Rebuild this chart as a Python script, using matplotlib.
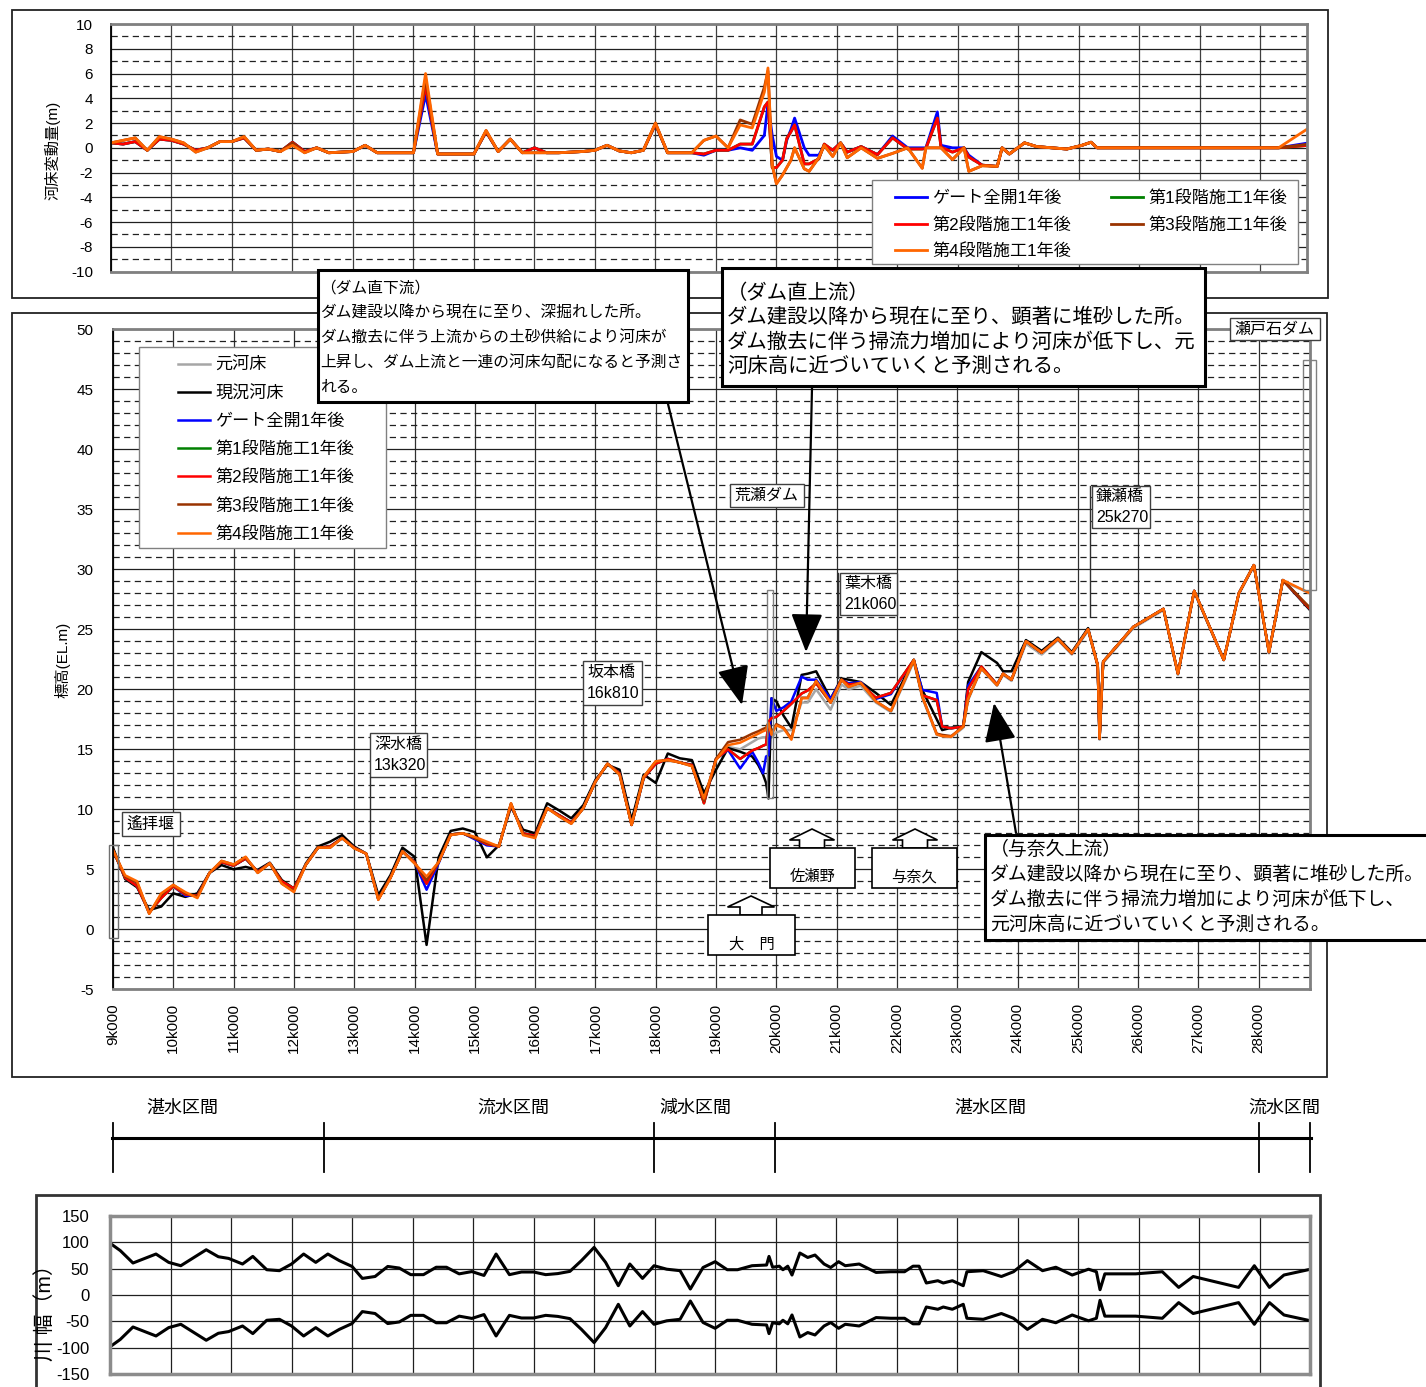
import numpy as np
import matplotlib
matplotlib.use("Agg")
import matplotlib.pyplot as plt
from matplotlib.patches import Rectangle, Polygon, FancyArrowPatch
from matplotlib.lines import Line2D

plt.rcParams['font.family'] = ['Liberation Sans', 'Noto Sans CJK JP', 'DejaVu Sans']
plt.rcParams['axes.unicode_minus'] = False

# ---------------- data ----------------
# main chart: stations (km) and bed elevations (EL.m)
km_main = [9.0, 9.2, 9.4, 9.6, 9.8, 10.0, 10.2, 10.4, 10.6, 10.8,
           11.0, 11.2, 11.4, 11.6, 11.8, 12.0, 12.2, 12.4, 12.6, 12.8,
           13.0, 13.2, 13.4, 13.6, 13.8, 14.0, 14.2, 14.4, 14.6, 14.8,
           15.0, 15.2, 15.4, 15.6, 15.8, 16.0, 16.2, 16.4, 16.6, 16.8,
           17.0, 17.2, 17.4, 17.6, 17.8, 18.0, 18.2, 18.4, 18.6, 18.8,
           19.0, 19.2, 19.4, 19.6,
           19.7, 19.78, 19.83, 19.87, 19.92,
           20.0, 20.12, 20.25, 20.42, 20.52, 20.66, 20.9,
           21.08, 21.2, 21.4, 21.65, 21.9,
           22.28, 22.42, 22.66, 22.75, 22.9,
           23.1, 23.18, 23.4, 23.66, 23.76, 23.9,
           24.14, 24.4, 24.67, 24.9,
           25.17, 25.33, 25.36, 25.42, 25.92,
           26.42, 26.66, 26.93,
           27.42, 27.67, 27.92,
           28.17, 28.4, 28.85]

bed_original = [6.6, 4.4, 3.8, 1.4, 2.7, 3.5, 2.9, 2.8, 4.7, 5.6,
                5.3, 5.9, 4.8, 5.5, 3.9, 3.3, 5.4, 6.8, 6.9, 7.6,
                6.8, 6.3, 2.6, 4.3, 6.5, 5.6, 4.0, 5.6, 7.9, 8.0,
                7.6, 7.1, 6.9, 10.4, 8.0, 7.7, 10.1, 9.5, 8.9, 10.1,
                12.3, 13.8, 13.0, 8.7, 12.6, 13.9, 14.1, 13.9, 13.7, 10.8,
                14.2, 15.2, 15.0, 15.6,
                15.9, 16.0, 16.0, 15.9, 16.0,
                16.4, 16.6, 16.6, 18.9, 18.9, 20.0, 18.3,
                20.4, 20.0, 20.3, 18.9, 18.1,
                22.3, 19.3, 16.2, 16.1, 16.0,
                16.8, 19.1, 21.7, 20.3, 21.2, 20.7,
                23.8, 22.9, 24.1, 22.9,
                24.9, 21.9, 15.8, 22.2, 25.1,
                26.6, 21.2, 28.1,
                22.4, 27.9, 30.3,
                23.0, 29.0, 28.0]

bed_current = [6.8, 4.2, 3.5, 1.6, 1.9, 3.0, 2.7, 3.0, 4.7, 5.35,
               5.0, 5.2, 4.95, 5.55, 4.1, 3.4, 5.5, 6.9, 7.3, 7.85,
               6.9, 6.3, 2.85, 4.5, 6.8, 6.05, -1.3, 6.0, 8.2, 8.4,
               8.1, 6.0, 7.0, 10.2, 8.3, 8.0, 10.5, 9.9, 9.25, 10.35,
               12.45, 13.7, 13.3, 9.1, 12.9, 12.2, 14.65, 14.25, 14.1, 11.35,
               13.3, 15.1, 14.8, 14.4,
               13.7, 12.9, 12.2, 10.9, 19.25,
               19.0, 17.8, 16.8, 21.2, 21.3, 21.5, 19.2,
               20.9, 20.8, 20.6, 19.7, 18.7,
               22.45, 19.95, 17.5, 16.6, 16.8,
               16.9, 20.6, 23.1, 22.2, 21.5, 21.5,
               24.1, 23.2, 24.3, 23.1,
               25.1, 22.0, 15.9, 22.3, 25.2,
               26.7, 21.3, 28.2,
               22.45, 28.0, 30.35,
               23.1, 29.1, 26.6]

bed_gate = [6.6, 4.3, 3.6, 1.4, 2.7, 3.6, 2.8, 2.8, 4.7, 5.6,
            5.3, 5.9, 4.8, 5.5, 3.9, 3.3, 5.4, 6.8, 6.9, 7.6,
            6.8, 6.3, 2.5, 4.3, 6.5, 5.6, 3.3, 5.5, 7.9, 8.0,
            7.5, 7.0, 6.9, 10.4, 8.0, 7.8, 10.1, 9.5, 8.9, 10.1,
            12.3, 13.8, 13.0, 8.7, 12.6, 13.8, 14.2, 13.9, 13.7, 10.6,
            14.2, 14.95, 13.4, 14.8,
            13.9, 13.0, 14.4, 14.5, 19.25,
            18.2, 18.5, 19.0, 21.05, 20.8, 20.8, 19.2,
            20.8, 20.5, 20.6, 19.2, 19.6,
            22.45, 19.95, 19.7, 16.9, 16.75,
            16.9, 20.3, 21.9, 20.4, 21.3, 20.8,
            24.0, 23.05, 24.2, 23.0,
            25.0, 22.0, 15.9, 22.3, 25.2,
            26.7, 21.3, 28.2,
            22.45, 28.0, 30.35,
            23.1, 29.1, 26.7]

bed_stage1 = [6.6, 4.3, 3.6, 1.4, 2.6, 3.6, 2.9, 2.8, 4.7, 5.6,
              5.3, 5.9, 4.8, 5.5, 4.0, 3.4, 5.4, 6.8, 6.9, 7.6,
              6.8, 6.3, 2.5, 4.3, 6.5, 5.6, 3.8, 5.6, 7.9, 8.0,
              7.6, 7.1, 6.9, 10.4, 8.0, 7.8, 10.1, 9.5, 8.9, 10.1,
              12.3, 13.8, 13.0, 8.7, 12.6, 13.8, 14.2, 13.9, 13.7, 10.5,
              14.2, 15.0, 14.2, 14.9,
              15.1, 15.3, 15.4, 17.3, 17.6,
              17.7, 18.2, 18.8, 19.65, 19.9, 20.5, 18.9,
              20.8, 20.4, 20.5, 19.3, 19.7,
              22.45, 19.5, 19.1, 16.9, 16.75,
              16.9, 20.0, 21.9, 20.4, 21.3, 20.8,
              24.0, 23.05, 24.2, 23.0,
              25.0, 22.0, 15.9, 22.3, 25.2,
              26.7, 21.3, 28.2,
              22.45, 28.0, 30.35,
              23.1, 29.1, 26.7]

bed_stage2 = [6.6, 4.3, 3.6, 1.4, 2.6, 3.6, 2.9, 2.8, 4.7, 5.6,
              5.3, 5.9, 4.8, 5.5, 4.0, 3.4, 5.4, 6.8, 6.9, 7.6,
              6.8, 6.3, 2.5, 4.3, 6.5, 5.6, 3.8, 5.6, 7.9, 8.0,
              7.6, 7.1, 6.9, 10.4, 8.0, 7.8, 10.1, 9.5, 8.9, 10.1,
              12.3, 13.8, 13.0, 8.7, 12.6, 13.8, 14.2, 13.9, 13.7, 10.5,
              14.2, 15.0, 14.2, 14.9,
              15.1, 15.3, 15.4, 17.3, 17.6,
              17.7, 18.2, 18.8, 19.65, 19.9, 20.5, 18.9,
              20.8, 20.4, 20.5, 19.3, 19.7,
              22.45, 19.5, 19.1, 16.9, 16.75,
              16.9, 20.0, 21.9, 20.4, 21.3, 20.8,
              24.0, 23.05, 24.2, 23.0,
              25.0, 22.0, 15.9, 22.3, 25.2,
              26.7, 21.3, 28.2,
              22.45, 28.0, 30.35,
              23.1, 29.1, 26.7]

bed_stage3 = [6.6, 4.4, 3.9, 1.3, 2.9, 3.7, 3.0, 2.7, 4.7, 5.7,
              5.4, 6.0, 4.7, 5.5, 3.8, 3.2, 5.4, 6.8, 6.8, 7.6,
              6.75, 6.3, 2.5, 4.3, 6.5, 5.5, 4.1, 5.6, 7.9, 8.0,
              7.6, 7.2, 6.9, 10.5, 7.9, 7.7, 10.1, 9.4, 8.8, 10.1,
              12.3, 13.8, 12.9, 8.7, 12.7, 14.0, 14.1, 13.9, 13.6, 10.7,
              14.2, 15.6, 15.8, 16.3,
              16.5, 16.7, 16.8, 17.2, 16.4,
              17.1, 16.8, 15.9, 19.3, 19.3, 20.7, 18.9,
              20.8, 20.2, 20.55, 19.0, 18.2,
              22.45, 19.4, 16.3, 16.2, 16.1,
              16.9, 19.2, 21.75, 20.35, 21.3, 20.8,
              24.0, 23.05, 24.2, 23.0,
              25.0, 22.0, 15.9, 22.3, 25.2,
              26.7, 21.3, 28.2,
              22.45, 28.0, 30.35,
              23.1, 29.1, 26.8]

bed_stage4 = [6.6, 4.5, 4.0, 1.3, 3.0, 3.7, 3.1, 2.6, 4.7, 5.7,
              5.4, 6.05, 4.7, 5.5, 3.8, 3.1, 5.4, 6.8, 6.8, 7.6,
              6.75, 6.3, 2.45, 4.25, 6.5, 5.5, 4.4, 5.6, 7.85, 8.0,
              7.7, 7.3, 6.9, 10.5, 7.85, 7.6, 10.1, 9.4, 8.8, 10.1,
              12.3, 13.8, 12.9, 8.7, 12.7, 14.0, 14.1, 13.9, 13.6, 10.9,
              14.1, 15.35, 15.55, 16.05,
              16.3, 16.5, 16.6, 17.2, 16.2,
              17.0, 16.75, 15.8, 19.25, 19.25, 20.7, 18.9,
              20.8, 20.2, 20.55, 19.0, 18.2,
              22.45, 19.4, 16.25, 16.1, 16.05,
              16.9, 19.2, 21.75, 20.35, 21.3, 20.8,
              24.0, 23.05, 24.2, 23.0,
              25.0, 22.0, 15.9, 22.3, 25.2,
              26.7, 21.3, 28.2,
              22.45, 28.0, 30.35,
              23.1, 29.1, 28.0]

# top chart: stations (km) and bed change (m)
km_top = [9.0, 9.2, 9.4, 9.6, 9.8, 10.0, 10.2, 10.4, 10.6, 10.8,
          11.0, 11.2, 11.4, 11.6, 11.8, 12.0, 12.2, 12.4, 12.6, 12.8,
          13.0, 13.2, 13.4, 13.6, 13.8, 14.0, 14.2, 14.4, 14.6, 14.8,
          15.0, 15.2, 15.4, 15.6, 15.8, 16.0, 16.2, 16.4, 16.6, 16.8,
          17.0, 17.2, 17.4, 17.6, 17.8, 18.0, 18.2, 18.4, 18.6, 18.8,
          19.0, 19.2, 19.4, 19.6, 19.8,
          19.86, 19.93, 20.0, 20.1, 20.17, 20.24, 20.3,
          20.46, 20.54, 20.7, 20.79, 20.93,
          21.06, 21.17, 21.4, 21.67, 21.92,
          22.17, 22.41, 22.47, 22.66, 22.72, 22.91,
          23.1, 23.18, 23.4, 23.65, 23.73, 23.85,
          24.1, 24.3, 24.55, 24.8,
          25.05, 25.2, 25.3,
          26.0, 27.0, 28.3, 28.8]

chg_gate = [0.4, 0.3, 0.5, -0.2, 0.7, 0.6, 0.3, -0.2, 0.0, 0.5,
            0.5, 0.8, -0.2, -0.1, -0.3, 0.45, -0.3, 0.0, -0.4, -0.35,
            -0.3, 0.2, -0.4, -0.4, -0.4, -0.4, 4.3, -0.5, -0.5, -0.5,
            -0.5, 1.3, -0.3, 0.7, -0.4, 0.0, -0.4, -0.4, -0.35, -0.3,
            -0.2, 0.2, -0.25, -0.4, -0.2, 1.9, -0.4, -0.4, -0.4, -0.6,
            -0.2, -0.2, 0.0, -0.2, 1.0,
            3.6, 1.0, -0.7, -1.0, 0.6, 1.5, 2.4,
            0.0, -0.6, -0.6, 0.2, -0.2,
            0.4, -0.35, 0.1, -0.55, 0.95,
            0.0, 0.0, 0.0, 2.9, 0.2, 0.0,
            0.0, -0.6, -1.4, -1.5, 0.0, -0.5,
            0.4, 0.1, 0.0, -0.1,
            0.2, 0.45, 0.0,
            0.0, 0.0, 0.0, 0.4]

chg_stage1 = [0.4, 0.3, 0.5, -0.2, 0.7, 0.6, 0.3, -0.2, 0.0, 0.5,
              0.5, 0.8, -0.2, -0.1, -0.3, 0.45, -0.3, 0.0, -0.4, -0.35,
              -0.3, 0.2, -0.4, -0.4, -0.4, -0.4, 5.0, -0.5, -0.5, -0.5,
              -0.5, 1.3, -0.3, 0.7, -0.4, 0.0, -0.4, -0.4, -0.35, -0.3,
              -0.2, 0.2, -0.25, -0.4, -0.2, 1.9, -0.4, -0.4, -0.4, -0.5,
              -0.2, -0.2, 0.3, 0.3, 3.3,
              3.7, -1.6, -1.6, -1.0, 0.75, 1.3, 1.85,
              -1.3, -1.3, -0.9, 0.3, -0.2,
              0.4, -0.35, 0.1, -0.55, 0.8,
              -0.1, -0.1, -0.05, 2.4, 0.05, -0.35,
              0.0, -0.75, -1.4, -1.5, 0.0, -0.5,
              0.4, 0.1, 0.0, -0.1,
              0.2, 0.45, 0.0,
              0.0, 0.0, 0.0, 0.2]

chg_stage2 = [0.4, 0.3, 0.5, -0.2, 0.7, 0.6, 0.3, -0.2, 0.0, 0.5,
              0.5, 0.8, -0.2, -0.1, -0.3, 0.45, -0.3, 0.0, -0.4, -0.35,
              -0.3, 0.2, -0.4, -0.4, -0.4, -0.4, 5.0, -0.5, -0.5, -0.5,
              -0.5, 1.3, -0.3, 0.7, -0.4, 0.0, -0.4, -0.4, -0.35, -0.3,
              -0.2, 0.2, -0.25, -0.4, -0.2, 1.9, -0.4, -0.4, -0.4, -0.5,
              -0.2, -0.2, 0.3, 0.3, 3.3,
              3.7, -1.6, -1.6, -1.0, 0.75, 1.3, 1.85,
              -1.3, -1.3, -0.9, 0.3, -0.2,
              0.4, -0.35, 0.1, -0.55, 0.8,
              -0.1, -0.1, -0.05, 2.4, 0.05, -0.35,
              0.0, -0.75, -1.4, -1.5, 0.0, -0.5,
              0.4, 0.1, 0.0, -0.1,
              0.2, 0.45, 0.0,
              0.0, 0.0, 0.0, 0.2]

chg_stage3 = [0.4, 0.6, 0.8, -0.2, 0.9, 0.7, 0.4, -0.35, 0.0, 0.5,
              0.5, 0.9, -0.2, -0.1, -0.3, 0.4, -0.4, 0.0, -0.4, -0.35,
              -0.3, 0.2, -0.4, -0.4, -0.4, -0.4, 5.6, -0.5, -0.5, -0.5,
              -0.5, 1.4, -0.3, 0.7, -0.4, -0.4, -0.4, -0.4, -0.35, -0.3,
              -0.2, 0.2, -0.25, -0.4, -0.2, 2.0, -0.4, -0.4, -0.4, 0.6,
              0.95, 0.0, 2.25, 1.9, 4.9,
              6.2, -1.4, -2.9, -2.2, -1.6, -1.0, 0.0,
              -1.7, -1.9, -0.8, 0.2, -0.7,
              0.4, -0.8, 0.0, -0.85, -0.45,
              0.0, -1.65, 0.0, 0.0, 0.0, -0.95,
              0.0, -1.9, -1.45, -1.5, 0.0, -0.5,
              0.4, 0.1, 0.0, -0.1,
              0.2, 0.45, 0.0,
              0.0, 0.0, 0.0, 0.3]

chg_stage4 = [0.4, 0.6, 0.8, -0.2, 0.9, 0.7, 0.4, -0.35, 0.0, 0.5,
              0.5, 0.9, -0.2, -0.1, -0.3, 0.2, -0.4, 0.0, -0.4, -0.35,
              -0.3, 0.2, -0.4, -0.4, -0.4, -0.4, 6.0, -0.5, -0.5, -0.5,
              -0.5, 1.4, -0.3, 0.7, -0.4, -0.4, -0.4, -0.4, -0.35, -0.3,
              -0.2, 0.2, -0.25, -0.4, -0.2, 2.0, -0.4, -0.4, -0.4, 0.6,
              0.95, 0.0, 1.85, 1.6, 4.5,
              6.45, -1.4, -2.9, -2.2, -1.6, -1.0, 0.0,
              -1.7, -1.9, -0.8, 0.2, -0.7,
              0.4, -0.8, 0.0, -0.85, -0.45,
              0.0, -1.65, 0.0, 0.0, 0.0, -0.95,
              0.0, -1.9, -1.45, -1.5, 0.0, -0.5,
              0.4, 0.1, 0.0, -0.1,
              0.2, 0.45, 0.0,
              0.0, 0.0, 0.0, 1.6]

# bottom chart: river width (half width, m)
km_width = [9.0, 9.17, 9.38, 9.76, 9.97, 10.17, 10.59, 10.79, 10.96, 11.19,
            11.36, 11.59, 11.8, 12.0, 12.2, 12.4, 12.6, 12.79, 13.0, 13.17,
            13.38, 13.59, 13.78, 13.97, 14.18, 14.39, 14.56, 14.77, 14.98, 15.18,
            15.38, 15.6, 15.8, 16.0, 16.2, 16.4, 16.6, 16.79, 17.0, 17.19,
            17.4, 17.59, 17.8, 17.99, 18.2, 18.42, 18.59, 18.8, 19.0, 19.2,
            19.37, 19.61, 19.85, 19.89, 19.95, 20.06, 20.12, 20.2, 20.27, 20.4,
            20.53, 20.65, 20.8, 20.91, 21.04, 21.15, 21.38, 21.66, 21.9, 22.13,
            22.27, 22.37, 22.49, 22.68, 22.77, 22.92, 23.1, 23.16, 23.43, 23.73,
            23.93, 24.16, 24.41, 24.63, 24.9, 25.17, 25.3, 25.36, 25.44, 25.95,
            26.39, 26.66, 26.9, 27.65, 27.91, 28.16, 28.4, 28.84]
half_width = [98, 84, 60.5, 77.5, 61.7, 55.4, 85.6, 72.4, 69.2, 58.6,
              73, 47.8, 46, 58.6, 77.5, 61.7, 77.5, 65, 54, 31.4,
              35, 54, 51, 38.5, 38.5, 52.5, 52.5, 40, 44.3, 37,
              77.5, 38.5, 43.5, 43.5, 38.5, 40.5, 44.7, 65, 90, 61.7,
              17.6, 58.6, 31.4, 55.4, 48.8, 46, 11.3, 52, 63, 47.8,
              47.8, 55.4, 56.7, 73, 52.5, 54.5, 47.8, 54.5, 37.8, 79.4,
              71, 75.6, 58.6, 52, 63, 55.4, 58.6, 42.7, 44, 44,
              54.5, 54.5, 22.7, 27, 22.7, 27, 17.6, 44, 46, 35,
              44, 65, 46, 52.5, 37.8, 48.8, 44, 10, 40, 40,
              44, 14.4, 35, 14.4, 55.4, 14.4, 37.8, 48.8]

km_ticks = list(range(9, 29))
km_tick_labels = [f"{k}k000" for k in km_ticks]

legend_labels = ['元河床', '現況河床', 'ゲート全開1年後', '第1段階施工1年後',
                 '第2段階施工1年後', '第3段階施工1年後', '第4段階施工1年後']
section_names = ['湛水区間', '流水区間', '減水区間', '湛水区間', '流水区間']
section_bounds = [9.0, 12.5, 17.97, 19.98, 28.0, 28.85]

C_GREY, C_BLACK, C_BLUE, C_GREEN = '#a6a6a6', '#000000', '#0000ff', '#008000'
C_RED, C_BROWN, C_ORANGE = '#ff0000', '#993300', '#ff6600'

# ---------------- layout helpers ----------------
W, H = 1426, 1387
fig = plt.figure(figsize=(W / 100, H / 100), dpi=100)
JP = ['Liberation Sans', 'Noto Sans CJK JP', 'DejaVu Sans']


def fx(x):
    return x / W


def fy(y):
    return 1 - y / H


def axrect(x0, y0, x1, y1):
    return [x0 / W, 1 - y1 / H, (x1 - x0) / W, (y1 - y0) / H]


def frect(x0, y0, x1, y1, lw=1.0, ec='black', fc='none', z=1):
    r = Rectangle((fx(x0), fy(y1)), (x1 - x0) / W, (y1 - y0) / H,
                  transform=fig.transFigure, lw=lw, ec=ec, fc=fc, zorder=z)
    fig.add_artist(r)
    return r


def fline(xs, ys, lw=1.0, color='black', z=6):
    fig.add_artist(Line2D([fx(v) for v in xs], [fy(v) for v in ys],
                          transform=fig.transFigure, lw=lw, color=color, zorder=z))


def ftext(x, y, s, size=11, ha='left', va='center', z=8, **kw):
    return fig.text(fx(x), fy(y), s, fontsize=size, ha=ha, va=va, zorder=z,
                    family=JP, **kw)


# outer frames
frect(12, 10, 1328, 298, lw=1.3, ec='#222222', z=0)
frect(12, 313, 1327, 1077, lw=1.3, ec='#222222', z=0)
frect(36, 1195, 1320, 1400, lw=2.0, ec='#333333', z=0)


def style_axes(ax):
    for s in ['top', 'right', 'bottom']:
        ax.spines[s].set_color('#808080')
        ax.spines[s].set_linewidth(2.0)
    ax.spines['left'].set_color('black')
    ax.spines['left'].set_linewidth(1.3)
    ax.set_axisbelow(True)


dash = (0, (5, 3.5))

# ---------------- top chart ----------------
ax_t = fig.add_axes(axrect(111, 24, 1307, 271.6))
ax_t.set_xlim(9.0, 28.77)
ax_t.set_ylim(-10, 10)
ax_t.set_yticks(range(-10, 11, 2))
ax_t.set_yticks(range(-9, 10, 2), minor=True)
ax_t.set_xticks(km_ticks)
ax_t.tick_params(axis='x', labelbottom=False, length=0)
ax_t.tick_params(axis='y', which='both', length=0, pad=13, labelsize=11)
ax_t.grid(axis='y', which='major', color='#202020', lw=0.9)
ax_t.grid(axis='y', which='minor', color='#202020', lw=0.9, ls=dash)
ax_t.grid(axis='x', which='major', color='#404040', lw=0.9)
style_axes(ax_t)
lt_gate, = ax_t.plot(km_top, chg_gate, color=C_BLUE, lw=2.0)
lt_s1, = ax_t.plot(km_top, chg_stage1, color=C_GREEN, lw=2.0)
lt_s2, = ax_t.plot(km_top, chg_stage2, color=C_RED, lw=2.0)
lt_s3, = ax_t.plot(km_top, chg_stage3, color=C_BROWN, lw=2.0)
lt_s4, = ax_t.plot(km_top, chg_stage4, color=C_ORANGE, lw=2.0)
ftext(52, 150, '河床変動量(m)', size=11, ha='center', rotation=90)

frect(872, 180, 1298, 264, lw=1.0, ec='#808080', fc='white', z=4)
leg_t = fig.legend([lt_gate, lt_s2, lt_s4, lt_s1, lt_s3],
                   [legend_labels[2], legend_labels[4], legend_labels[6],
                    legend_labels[3], legend_labels[5]],
                   ncol=2, loc='upper left', bbox_to_anchor=(fx(895), fy(190)),
                   bbox_transform=fig.transFigure, frameon=False, borderpad=0,
                   borderaxespad=0, handlelength=1.87, handletextpad=0.3,
                   labelspacing=0.64, columnspacing=2.34,
                   prop={'family': JP, 'size': 12.3})
leg_t.set_zorder(9)

# ---------------- main chart ----------------
ax = fig.add_axes(axrect(113, 329.3, 1310, 989.3))
ax.set_xlim(9.0, 28.85)
ax.set_ylim(-5, 50)
ax.set_yticks(range(-5, 51, 5))
ax.set_yticks([v for v in range(-4, 50) if v % 5 != 0], minor=True)
ax.set_xticks(km_ticks)
ax.set_xticklabels(km_tick_labels, rotation=90, fontsize=11, va='top')
ax.tick_params(axis='x', length=0, pad=10)
ax.tick_params(axis='y', which='both', length=0, pad=14, labelsize=11)
ax.grid(axis='y', which='major', color='#202020', lw=0.9)
ax.grid(axis='y', which='minor', color='#202020', lw=0.9, ls=dash)
ax.grid(axis='x', which='major', color='#303030', lw=0.9)
style_axes(ax)

lw_m = 1.8
h0, = ax.plot(km_main, bed_original, color=C_GREY, lw=lw_m)
h1, = ax.plot(km_main, bed_current, color=C_BLACK, lw=lw_m)
h2, = ax.plot(km_main, bed_gate, color=C_BLUE, lw=lw_m)
h3, = ax.plot(km_main, bed_stage1, color=C_GREEN, lw=lw_m)
h4, = ax.plot(km_main, bed_stage2, color=C_RED, lw=lw_m)
h5, = ax.plot(km_main, bed_stage3, color=C_BROWN, lw=lw_m)
h6, = ax.plot(km_main, bed_stage4, color=C_ORANGE, lw=lw_m)
ftext(62, 660, '標高(EL.m)', size=11, ha='center', rotation=90)

frect(139, 347, 386, 548, lw=1.0, ec='#808080', fc='white', z=4)
leg_m = fig.legend([h0, h1, h2, h3, h4, h5, h6], legend_labels,
                   loc='upper left', bbox_to_anchor=(fx(178), fy(357)),
                   bbox_transform=fig.transFigure, frameon=False, borderpad=0,
                   borderaxespad=0, handlelength=1.87, handletextpad=0.3,
                   labelspacing=0.72, prop={'family': JP, 'size': 12.3})
leg_m.set_zorder(9)

# structures (weir / dams)
frect(109, 845, 118, 938, lw=1.0, ec='#707070', fc='none', z=5)
frect(767, 590, 773, 798, lw=1.0, ec='#808080', fc='none', z=5)
frect(1303, 360, 1316, 590, lw=1.0, ec='#808080', fc='none', z=5)


# location labels
def label_box(x0, y0, x1, y1, lines, size=11.5):
    frect(x0, y0, x1, y1, lw=1.0, ec='#404040', fc='white', z=6)
    n = len(lines)
    step = (y1 - y0) / n
    for i, s in enumerate(lines):
        ftext(x0 + 4, y0 + step * (i + 0.5), s, size=size)


label_box(122, 812, 180, 836, ['遙拝堰'])
label_box(370, 733, 427, 777, ['深水橋', '13k320'])
fline([370, 370], [777, 848], lw=1.0, color='#303030')
label_box(583, 661, 642, 705, ['坂本橋', '16k810'])
fline([583, 583], [705, 779], lw=1.0, color='#303030')
label_box(730, 484, 804, 507, ['荒瀬ダム'])
label_box(840, 573, 897, 615, ['葉木橋', '21k060'])
fline([838, 838], [573, 678], lw=1.0, color='#303030')
label_box(1092, 486, 1150, 528, ['鎌瀬橋', '25k270'])
fline([1090, 1090], [486, 617], lw=1.0, color='#303030')
label_box(1230, 318, 1320, 340, ['瀬戸石ダム'])


# up-arrow markers with place names
def up_marker(cx, tip_y, base_y, head_w, stem_w, box, name):
    hh = 11
    pts = [(cx, tip_y), (cx + head_w / 2, tip_y + hh), (cx + stem_w / 2, tip_y + hh),
           (cx + stem_w / 2, base_y), (cx - stem_w / 2, base_y),
           (cx - stem_w / 2, tip_y + hh), (cx - head_w / 2, tip_y + hh)]
    fig.add_artist(Polygon([(fx(a), fy(b)) for a, b in pts], closed=True,
                           transform=fig.transFigure, fc='white', ec='black',
                           lw=1.2, zorder=6))
    frect(*box, lw=1.2, ec='black', fc='white', z=6)
    ftext((box[0] + box[2]) / 2, box[3] - 11, name, size=11, ha='center')


up_marker(812, 829, 848, 45, 25, (770, 848, 855, 888), '佐瀬野')
up_marker(915, 829, 848, 45, 25, (872, 848, 957, 888), '与奈久')
up_marker(751, 896, 915, 47, 22, (708, 915, 795, 955), '大　門')


# explanation boxes
def note_box(x0, y0, x1, y1, lines, size, x_text, y_first, step):
    frect(x0, y0, x1, y1, lw=2.2, ec='black', fc='white', z=6)
    for i, s in enumerate(lines):
        ftext(x_text, y_first + i * step, s, size=size, z=8)


note_box(318, 270, 688, 402,
         ['（ダム直下流）', 'ダム建設以降から現在に至り、深掘れした所。',
          'ダム撤去に伴う上流からの土砂供給により河床が',
          '上昇し、ダム上流と一連の河床勾配になると予測さ', 'れる。'],
         11.3, 320, 288, 24.8)
note_box(722, 268, 1205, 386,
         ['（ダム直上流）', 'ダム建設以降から現在に至り、顕著に堆砂した所。',
          'ダム撤去に伴う掃流力増加により河床が低下し、元',
          '河床高に近づいていくと予測される。'],
         14.7, 727, 293, 24.5)
note_box(985, 835, 1432, 940,
         ['（与奈久上流）', 'ダム建設以降から現在に至り、顕著に堆砂した所。',
          'ダム撤去に伴う掃流力増加により河床が低下し、',
          '元河床高に近づいていくと予測される。'],
         13.6, 990, 850, 25.0)


def farrow(x0, y0, x1, y1):
    fig.add_artist(FancyArrowPatch((fx(x0), fy(y0)), (fx(x1), fy(y1)),
                                   transform=fig.transFigure,
                                   arrowstyle='-|>,head_length=1.1,head_width=0.45',
                                   mutation_scale=22, lw=1.6, color='black',
                                   shrinkA=0, shrinkB=0, zorder=7))


farrow(668, 404, 742, 705)
farrow(812, 388, 806, 652)
farrow(1016, 833, 994, 703)

# ---------------- section band ----------------
fline([112, 1311], [1138, 1138], lw=2.2, color='black', z=3)
for b in section_bounds:
    xb = ax.transData.transform((b, 0))[0] / W
    fig.add_artist(Line2D([xb, xb], [fy(1123), fy(1172)], transform=fig.transFigure,
                          lw=1.3, color='black', zorder=3))
for name, xp in zip(section_names, [182, 513, 695, 990, 1284]):
    ftext(xp, 1108, name, size=13, ha='center')

# ---------------- river width chart ----------------
ax_w = fig.add_axes(axrect(110, 1215.7, 1310, 1374.3))
ax_w.set_xlim(9.0, 28.83)
ax_w.set_ylim(-150, 150)
ax_w.set_yticks(range(-150, 151, 50))
ax_w.set_xticks(km_ticks)
ax_w.tick_params(axis='x', labelbottom=False, length=0)
ax_w.tick_params(axis='y', length=0, pad=15, labelsize=12)
ax_w.grid(True, color='#202020', lw=0.9)
ax_w.set_axisbelow(True)
for s in ax_w.spines.values():
    s.set_color('#8c8c8c')
    s.set_linewidth(2.5)
hw = np.array(half_width)
ax_w.plot(km_width, hw, color='black', lw=2.2)
ax_w.plot(km_width, -hw, color='black', lw=2.2)
ftext(46, 1308, '川 幅（m）', size=15, ha='center', rotation=90)

fig.savefig('out.png', dpi=100)
